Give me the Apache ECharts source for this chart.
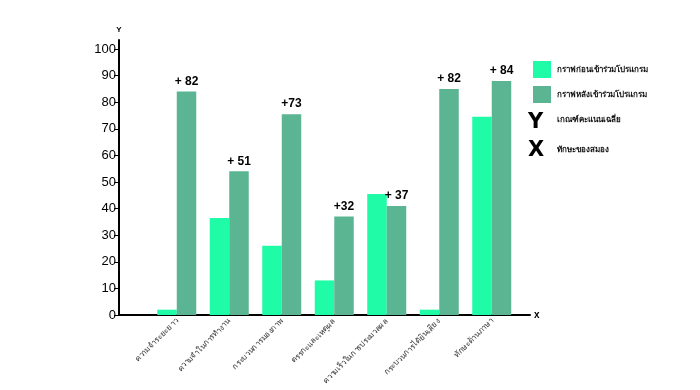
<!DOCTYPE html>
<html><head><meta charset="utf-8">
<script src="https://cdn.jsdelivr.net/npm/echarts@6/dist/echarts.min.js"></script>
<style>html,body{margin:0;padding:0;background:#fff}#c{width:700px;height:390px}</style>
</head><body><div id="c"></div>
<script>
const categories = ['ความจำระยะยาว','ความจำในการทำงาน','กระบวนการมองภาพ','ตรรกะและเหตุผล','ความเร็วในการประมวลผล','กระบวนการได้ยินเสียง','ทักษะด้านภาษา'];
const beforeValues = [2, 36.5, 26, 13, 45.5, 2, 74.5];
const afterValues = [84, 54, 75.5, 37, 41, 85, 88];
const gainLabels = ['+ 82', '+ 51', '+73', '+32', '+ 37', '+ 82', '+ 84'];
const yTicks = [0,10,20,30,40,50,60,70,80,90,100];
const seriesNames = ['กราฟก่อนเข้าร่วมโปรแกรม','กราฟหลังเข้าร่วมโปรแกรม'];
const axisKeyNames = ['เกณฑ์คะแนนเฉลี่ย','ทักษะของสมอง'];

const font = '"Noto Sans", "DejaVu Sans", sans-serif';
const chart = echarts.init(document.getElementById('c'));
chart.setOption({
  backgroundColor: '#fff',
  animation: false,
  grid: [
    {left: 150.5, right: 182, top: 49, bottom: 75, outerBoundsMode: 'none', containLabel: false},
    {left: 119, right: 170, top: 40, bottom: 75, outerBoundsMode: 'none', containLabel: false}
  ],
  xAxis: [
    {type: 'category', gridIndex: 0, data: categories,
     axisLine: {show: false}, axisTick: {show: false},
     axisLabel: {rotate: 45, fontSize: 8, color: '#333', fontFamily: font, margin: 5, interval: 0}},
    {type: 'value', gridIndex: 1, min: 0, max: 1,
     axisLine: {show: true, lineStyle: {color: '#000', width: 2}},
     axisTick: {show: false}, axisLabel: {show: false}, splitLine: {show: false},
     name: 'x', nameLocation: 'end', nameGap: 4,
     nameTextStyle: {fontSize: 10, fontWeight: 'bold', color: '#000', fontFamily: 'Liberation Sans'}}
  ],
  yAxis: [
    {type: 'value', gridIndex: 0, min: 0, max: 100, show: false},
    {type: 'value', gridIndex: 1, min: 0, max: 103.4,
     axisLine: {show: true, lineStyle: {color: '#000', width: 2}},
     axisTick: {show: true, length: 5, lineStyle: {color: '#000'}, customValues: yTicks},
     axisLabel: {fontSize: 13, color: '#000', margin: 3, fontFamily: 'Liberation Sans', customValues: yTicks},
     splitLine: {show: false},
     name: 'Y', nameLocation: 'end', nameGap: 6,
     nameTextStyle: {fontSize: 8, fontWeight: 'bold', color: '#000', fontFamily: 'Liberation Sans', align: 'center'}}
  ],
  legend: {
    orient: 'vertical', left: 528, top: 56, itemWidth: 18, itemHeight: 17, itemGap: 8,
    icon: 'rect', data: seriesNames,
    textStyle: {fontSize: 8, fontWeight: 'bold', color: '#111', fontFamily: font, padding: [0,0,0,1]}
  },
  graphic: [
    {type: 'text', left: 528, top: 112, style: {text: 'Y', font: 'bold 21px "DejaVu Sans"', fill: '#000'}},
    {type: 'text', left: 557, top: 116, style: {text: axisKeyNames[0], font: 'bold 8px ' + font, fill: '#111'}},
    {type: 'text', left: 528, top: 140, style: {text: 'X', font: 'bold 21px "DejaVu Sans"', fill: '#000'}},
    {type: 'text', left: 557, top: 146, style: {text: axisKeyNames[1], font: 'bold 8px ' + font, fill: '#111'}}
  ],
  series: [
    {name: seriesNames[0], type: 'bar', xAxisIndex: 0, yAxisIndex: 0, data: beforeValues,
     barWidth: 19.5, barGap: '0%', itemStyle: {color: '#1ffba6'}},
    {name: seriesNames[1], type: 'bar', xAxisIndex: 0, yAxisIndex: 0, data: afterValues,
     barWidth: 19.5, barGap: '0%', itemStyle: {color: '#5bb592'},
     label: {show: true, position: 'top', distance: 4, fontSize: 12, fontWeight: 'bold', color: '#000',
       fontFamily: 'Liberation Sans', formatter: p => gainLabels[p.dataIndex]}}
  ]
});
</script></body></html>
